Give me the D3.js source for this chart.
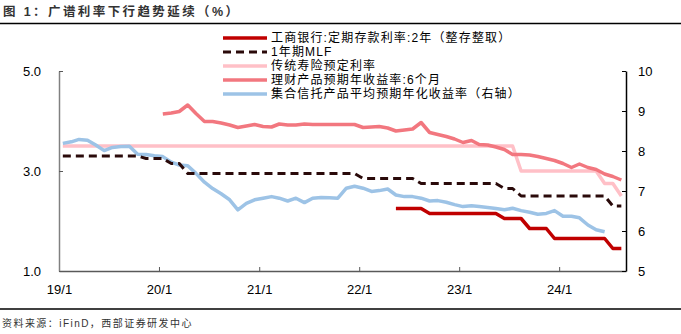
<!DOCTYPE html>
<html><head><meta charset="utf-8">
<script src="https://cdn.jsdelivr.net/npm/d3@7"></script>
<style>
html,body{margin:0;padding:0;background:#fff;}
svg{display:block;font-family:"Liberation Sans","Noto Sans CJK SC",sans-serif;}
</style></head>
<body><svg id="c" width="681" height="334"></svg>
<script>
// ---- data (monthly, 2019-01 .. 2024-08) ----
const startMonth = "2019-01";
const yearTicks = ["19/1","20/1","21/1","22/1","23/1","24/1"];
const seriesNames = ["工商银行:定期存款利率:2年（整存整取）","1年期MLF","传统寿险预定利率","理财产品预期年收益率:6个月","集合信托产品平均预期年化收益率（右轴）"];
const leftTicks = [1.0, 3.0, 5.0];
const rightTicks = [5, 6, 7, 8, 9, 10];

const icbc = [null,null,null,null,null,null,null,null,null,null,null,null,
 null,null,null,null,null,null,null,null,null,null,null,null,
 null,null,null,null,null,null,null,null,null,null,null,null,
 null,null,null,null,2.25,2.25,2.25,2.25,2.15,2.15,2.15,2.15,
 2.15,2.15,2.15,2.15,2.15,2.05,2.05,2.05,1.85,1.85,1.85,1.65,
 1.65,1.65,1.65,1.65,1.65,1.65,1.45,1.45];
const mlf = [3.30,3.30,3.30,3.30,3.30,3.30,3.30,3.30,3.30,3.30,3.25,3.25,
 3.25,3.15,3.15,2.95,2.95,2.95,2.95,2.95,2.95,2.95,2.95,2.95,
 2.95,2.95,2.95,2.95,2.95,2.95,2.95,2.95,2.95,2.95,2.95,2.95,
 2.85,2.85,2.85,2.85,2.85,2.85,2.85,2.75,2.75,2.75,2.75,2.75,
 2.75,2.75,2.75,2.75,2.75,2.65,2.65,2.50,2.50,2.50,2.50,2.50,
 2.50,2.50,2.50,2.50,2.50,2.50,2.30,2.30];
const lifeIns = [3.5,3.5,3.5,3.5,3.5,3.5,3.5,3.5,3.5,3.5,3.5,3.5,
 3.5,3.5,3.5,3.5,3.5,3.5,3.5,3.5,3.5,3.5,3.5,3.5,
 3.5,3.5,3.5,3.5,3.5,3.5,3.5,3.5,3.5,3.5,3.5,3.5,
 3.5,3.5,3.5,3.5,3.5,3.5,3.5,3.5,3.5,3.5,3.5,3.5,
 3.5,3.5,3.5,3.5,3.5,3.5,3.5,3.0,3.0,3.0,3.0,3.0,
 3.0,3.0,3.0,3.0,3.0,2.75,2.75,2.5];
const wealth6m = [null,null,null,null,null,null,null,null,null,null,null,null,
 4.14,4.16,4.19,4.32,4.15,3.99,3.99,3.96,3.92,3.87,3.90,3.93,
 3.89,3.88,3.94,3.92,3.92,3.94,3.93,3.93,3.93,3.93,3.93,3.93,
 3.87,3.88,3.89,3.86,3.80,3.82,3.84,3.97,3.77,3.73,3.69,3.64,
 3.57,3.61,3.53,3.52,3.48,3.43,3.33,3.33,3.32,3.29,3.25,3.21,
 3.15,3.07,3.14,3.07,3.03,2.94,2.89,2.82];
const trust = [8.19,8.23,8.29,8.27,8.15,8.01,8.09,8.11,8.12,7.92,7.91,7.88,
 7.86,7.72,7.65,7.63,7.44,7.22,7.06,6.93,6.78,6.53,6.69,6.78,
 6.82,6.86,6.82,6.75,6.82,6.71,6.82,6.84,6.83,6.82,7.07,7.12,
 7.07,6.99,7.01,7.05,6.90,6.86,6.86,6.82,6.75,6.76,6.72,6.66,
 6.61,6.63,6.61,6.59,6.56,6.53,6.57,6.51,6.47,6.42,6.44,6.51,
 6.37,6.37,6.33,6.15,6.03,5.98,null,null];

const colors = ["#C00000","#2A0A0A","#FFC0C7","#F2777F","#9DC3E6"];

// ---- layout ----
const svg = d3.select("#c");
const X0 = 59, X1 = 626, Y0 = 271, Y1 = 71;
const parse = d3.timeParse("%Y-%m");
const t0 = parse(startMonth);
const months = d3.range(icbc.length).map(i => d3.timeDay.offset(d3.timeMonth.offset(t0, i), 14));
const x = d3.scaleTime().domain([t0, d3.timeMonth.offset(t0, 68)]).range([X0, X1]);
const yL = d3.scaleLinear().domain([1, 5]).range([Y0, Y1]);
const yR = d3.scaleLinear().domain([5, 10]).range([Y0, Y1]);

// title
svg.append("text").attr("x", 3).attr("y", 16)
  .attr("font-size", 12.5).attr("font-weight", 700).attr("fill", "#333")
  .attr("letter-spacing", 2.4).text("图 1：广谱利率下行趋势延续（%）");
svg.append("line").attr("x1", 0).attr("x2", 681).attr("y1", 23.5).attr("y2", 23.5)
  .attr("stroke", "#000").attr("stroke-width", 1.3);

// bottom rule + source
svg.append("line").attr("x1", 0).attr("x2", 681).attr("y1", 309).attr("y2", 309)
  .attr("stroke", "#000").attr("stroke-width", 1.3);
svg.append("text").attr("x", 2).attr("y", 327).attr("font-size", 10).attr("fill", "#333")
  .attr("letter-spacing", 1.45).text("资料来源：iFinD，西部证券研发中心");

// axes
const gx = svg.append("g").attr("transform", `translate(0,${Y0})`)
  .call(d3.axisBottom(x).tickValues(d3.range(6).map(i => d3.timeYear.offset(t0, i))).tickSize(-4).tickSizeOuter(0)
    .tickFormat((d, i) => yearTicks[i]));
gx.select(".domain").attr("stroke", "#595959").attr("stroke-width", 1.5);
gx.selectAll(".tick line").attr("stroke", "#595959");
gx.selectAll(".tick text").attr("font-size", 13).attr("fill", "#000").attr("dy", 0).attr("y", 23);

const gl = svg.append("g").attr("transform", `translate(${X0},0)`)
  .call(d3.axisLeft(yL).tickValues(leftTicks).tickSize(-4).tickSizeOuter(0).tickFormat(d3.format(".1f")));
gl.select(".domain").attr("stroke", "#808080").attr("stroke-width", 1.5);
gl.selectAll(".tick line").attr("stroke", "#595959");
gl.selectAll(".tick text").attr("font-size", 13).attr("fill", "#000").attr("x", -18);

const gr = svg.append("g").attr("transform", `translate(${X1},0)`)
  .call(d3.axisRight(yR).tickValues(rightTicks).tickSize(-4).tickSizeOuter(0).tickFormat(d3.format("d")));
gr.select(".domain").attr("stroke", "#000").attr("stroke-width", 1.5);
gr.selectAll(".tick line").attr("stroke", "#000");
gr.selectAll(".tick text").attr("font-size", 13).attr("fill", "#000").attr("x", 12);

// lines
function draw(vals, yScale, color, width, dash) {
  const data = vals.map((v, i) => ({d: months[i], v}));
  const line = d3.line().defined(p => p.v !== null).x(p => x(p.d)).y(p => yScale(p.v));
  const p = svg.append("path").datum(data).attr("d", line).attr("fill", "none")
    .attr("stroke", color).attr("stroke-width", width).attr("stroke-linejoin", "round");
  if (dash) p.attr("stroke-dasharray", dash);
}
draw(lifeIns, yL, colors[2], 3.5);
draw(wealth6m, yL, colors[3], 3.5);
draw(trust, yR, colors[4], 3.5);
draw(mlf, yL, colors[1], 3, "8,5");
draw(icbc, yL, colors[0], 3.5);

// legend
const lg = svg.append("g");
seriesNames.forEach((name, i) => {
  const yy = 38 + i * 14;
  lg.append("line").attr("x1", 223).attr("x2", 267).attr("y1", yy).attr("y2", yy)
    .attr("stroke", colors[i]).attr("stroke-width", i === 1 ? 3 : 3.5)
    .attr("stroke-dasharray", i === 1 ? "8,5" : null);
  lg.append("text").attr("x", 271).attr("y", yy).attr("dy", "0.36em")
    .attr("font-size", 12).attr("letter-spacing", 1.15).attr("fill", "#000").text(name);
});
</script></body></html>
